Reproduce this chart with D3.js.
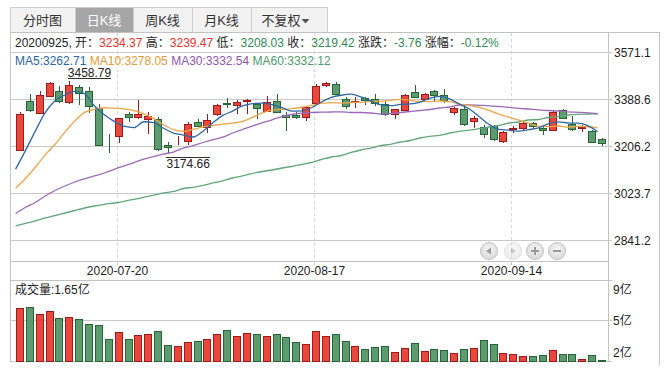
<!DOCTYPE html>
<html><head><meta charset="utf-8">
<script src="https://cdn.jsdelivr.net/npm/d3@7/dist/d3.min.js"></script>
<style>
body{margin:0;background:#fff;}
svg{display:block;font-family:"Liberation Sans",Arial,"Noto Sans CJK SC",sans-serif;}
</style>
</head><body>
<svg id="c" width="668" height="372"></svg>
<script>
const dates = ["2020-07-06","2020-07-07","2020-07-08","2020-07-09","2020-07-10","2020-07-13","2020-07-14","2020-07-15","2020-07-16","2020-07-17",
"2020-07-20","2020-07-21","2020-07-22","2020-07-23","2020-07-24","2020-07-27","2020-07-28","2020-07-29","2020-07-30","2020-07-31",
"2020-08-03","2020-08-04","2020-08-05","2020-08-06","2020-08-07","2020-08-10","2020-08-11","2020-08-12","2020-08-13","2020-08-14",
"2020-08-17","2020-08-18","2020-08-19","2020-08-20","2020-08-21","2020-08-24","2020-08-25","2020-08-26","2020-08-27","2020-08-28",
"2020-08-31","2020-09-01","2020-09-02","2020-09-03","2020-09-04","2020-09-07","2020-09-08","2020-09-09","2020-09-10","2020-09-11",
"2020-09-14","2020-09-15","2020-09-16","2020-09-17","2020-09-18","2020-09-21","2020-09-22","2020-09-23","2020-09-24","2020-09-25"];
const opens = [3190.6,3380.8,3336.6,3402.6,3419.7,3379.3,3435.2,3422.0,3354.8,3216.5,
3246.1,3330.4,3318.7,3311.0,3311.0,3212.0,3225.0,3225.6,3299.3,3281.0,
3330.4,3376.0,3365.3,3383.2,3371.5,3344.3,3380.8,3326.5,3326.0,3320.0,
3375.4,3443.0,3446.8,3389.0,3378.0,3393.6,3391.0,3371.5,3332.7,3348.2,
3415.8,3391.0,3420.8,3404.1,3340.5,3349.8,3305.5,3279.9,3285.0,3228.0,
3274.0,3278.4,3295.4,3278.4,3270.6,3348.2,3292.7,3276.0,3264.4,3234.37];
const highs = [3338.0,3408.0,3422.0,3457.0,3439.0,3458.79,3443.0,3435.0,3371.5,3253.9,
3316.0,3339.3,3384.7,3339.3,3320.0,3222.8,3246.0,3300.5,3313.3,3332.7,
3371.5,3393.6,3384.7,3391.0,3373.0,3400.2,3410.3,3339.3,3339.0,3363.0,
3449.0,3456.0,3455.8,3397.5,3397.5,3397.5,3408.0,3380.8,3352.0,3408.0,
3443.0,3414.2,3424.7,3427.4,3359.0,3365.3,3323.8,3290.0,3290.0,3264.4,
3283.8,3303.2,3300.5,3287.7,3342.0,3351.0,3322.6,3290.0,3268.3,3239.47];
const lows = [3186.0,3339.3,3330.4,3398.7,3374.2,3370.4,3365.0,3336.6,3208.0,3181.3,
3220.0,3300.5,3313.3,3255.0,3186.7,3174.66,3210.0,3210.0,3285.0,3259.0,
3323.8,3356.0,3332.7,3332.7,3311.0,3339.3,3336.6,3265.5,3313.0,3303.2,
3371.5,3435.2,3404.0,3352.0,3356.0,3367.6,3362.6,3323.8,3313.3,3342.0,
3393.6,3384.7,3378.1,3375.4,3326.5,3285.0,3277.2,3238.4,3228.0,3220.1,
3259.0,3266.7,3274.5,3248.8,3266.7,3316.0,3264.4,3261.7,3219.0,3208.03];
const closes = [3332.88,3345.34,3403.44,3450.59,3383.32,3443.29,3414.62,3361.30,3210.10,3214.13,
3314.15,3320.90,3333.16,3325.11,3196.77,3205.23,3227.96,3294.55,3286.82,3310.01,
3367.97,3371.69,3377.56,3386.46,3354.04,3379.25,3340.29,3319.27,3320.73,3360.10,
3438.80,3451.09,3408.13,3363.90,3380.68,3385.64,3373.58,3329.74,3350.11,3403.81,
3395.68,3410.61,3404.80,3384.98,3355.37,3292.59,3316.42,3254.63,3234.82,3260.35,
3278.81,3295.68,3283.92,3270.44,3338.09,3316.94,3274.30,3279.71,3223.18,3219.42];
const volumes = [6.18,6.29,5.66,5.92,5.31,5.40,5.23,4.79,4.71,3.50,
4.10,3.50,3.84,3.93,4.19,2.98,2.89,3.24,3.32,3.50,
3.93,4.28,3.76,4.02,3.93,3.76,3.93,3.67,3.24,3.06,
4.19,3.76,3.93,3.30,2.89,2.61,2.78,2.87,2.35,2.69,
3.13,2.43,2.61,2.52,2.26,2.61,2.69,3.38,3.04,2.26,
2.17,2.00,2.00,2.09,2.52,2.17,2.17,1.74,2.09,1.65];
const ma5 = [3117.38,3189.52,3265.01,3337.01,3383.11,3405.20,3419.05,3410.62,3362.53,3328.69,
3302.86,3284.12,3278.49,3301.49,3298.02,3276.23,3257.65,3249.92,3242.27,3264.91,
3297.46,3326.21,3342.81,3362.74,3371.54,3373.80,3367.52,3355.86,3342.72,3343.93,
3355.84,3378.00,3395.77,3404.40,3408.52,3397.89,3382.39,3366.71,3363.95,3368.58,
3370.58,3377.99,3393.00,3399.98,3390.29,3369.67,3350.83,3320.80,3290.77,3271.76,
3269.01,3264.86,3270.72,3277.84,3293.39,3301.01,3296.74,3295.90,3286.44,3262.71];
const ma10 = [3043.15,3080.92,3124.74,3172.74,3213.11,3261.29,3304.28,3337.82,3349.77,3355.90,
3354.03,3351.58,3344.56,3332.01,3313.35,3289.55,3270.88,3264.21,3271.88,3281.47,
3286.85,3291.93,3296.37,3302.50,3318.23,3335.63,3346.86,3349.34,3352.73,3357.74,
3364.82,3372.76,3375.82,3373.56,3376.22,3376.86,3380.19,3381.24,3384.18,3388.55,
3384.24,3380.19,3379.86,3381.96,3379.43,3370.13,3364.41,3356.90,3345.37,3331.03,
3319.34,3307.85,3295.76,3284.30,3282.58,3285.01,3280.80,3283.31,3282.14,3278.05];
const ma30 = [2945.3,2968.6,2988.0,3013.2,3034.6,3052.0,3067.6,3080.0,3090.9,3102.5,
3116.9,3130.0,3143.0,3156.8,3166.5,3176.3,3184.0,3199.5,3209.2,3220.9,
3231.8,3241.5,3257.8,3271.4,3284.9,3297.4,3309.0,3321.8,3329.6,3334.6,
3337.4,3338.5,3339.3,3340.1,3337.4,3337.4,3335.4,3331.5,3333.5,3337.4,
3341.2,3345.1,3349.0,3354.8,3358.7,3366.5,3367.2,3365.3,3363.4,3360.6,
3357.5,3353.7,3350.9,3347.8,3345.1,3343.2,3340.1,3338.1,3336.2,3332.54];
const ma60 = [2896.8,2906.5,2916.2,2927.8,2937.5,2947.2,2956.9,2966.6,2974.4,2981.0,
2986.0,2992.6,3000.4,3008.2,3016.3,3024.9,3030.7,3042.3,3047.0,3054.0,
3063.7,3072.2,3083.1,3090.9,3100.6,3108.3,3114.1,3121.9,3127.7,3135.5,
3143.3,3154.9,3164.6,3170.4,3182.1,3191.8,3199.5,3208.5,3213.9,3222.8,
3228.7,3238.4,3245.0,3248.8,3257.8,3264.4,3268.6,3274.5,3281.1,3287.7,
3296.6,3300.5,3308.2,3310.2,3317.9,3321.8,3327.7,3330.4,3331.5,3332.12];
const yTickValues = [3571.1, 3388.6, 3206.2, 3023.7, 2841.2];
const xTickLabels = ["2020-07-20", "2020-08-17", "2020-09-14"];
const volTickLabels = ["9亿", "5亿", "2亿"];
const volDomain = [1.62, 8.6];
const tabs = ["分时图", "日K线", "周K线", "月K线", "不复权"];
const maNames = ["MA5", "MA10", "MA30", "MA60"];

const svg = d3.select("#c");
const C = {
  red: "#e8473b", redS: "#9e1b1b", green: "#5c9b6e", greenS: "#276436",
  grid: "#c9c9c9", border: "#c3c3c3", text: "#222",
  ma: ["#2f68a3", "#eba64b", "#9c6ab8", "#62a77c"],
  maText: ["#2d64a0", "#e59a36", "#8f56ad", "#4f9a6c"],
  infoRed: "#e8322c", infoGreen: "#2f8a55"
};

const x = d3.scaleBand().domain(d3.range(dates.length)).range([15.07, 607.03]).padding(0);
const cx = i => x(i) + x.bandwidth() / 2;
const y = d3.scaleLinear().domain([2841.2, 3571.1]).range([240.3, 52.3]);
const yv = d3.scaleLinear().domain(volDomain).range([361.7, 281]);
const snap = v => Math.round(v) + 0.5;

// ---- tabs ----
const tabX = [10, 75, 133, 192, 251, 327];
const tg = svg.append("g");
tabs.forEach((t, i) => {
  const sel = i === 1;
  tg.append("rect").attr("x", tabX[i] + 0.5).attr("y", 7.5)
    .attr("width", tabX[i + 1] - tabX[i]).attr("height", 25)
    .attr("fill", sel ? "#a6a6a6" : "#f2f2f2").attr("stroke", "#cdcdcd");
  const tcx = i === 4 ? 281 : (tabX[i] + tabX[i + 1]) / 2;
  tg.append("text").attr("x", tcx).attr("y", 20.5).attr("text-anchor", "middle")
    .attr("dominant-baseline", "central").attr("font-size", 13)
    .attr("fill", sel ? "#fff" : "#333").text(t);
});
tg.append("path").attr("d", "M301.5,19 L309.5,19 L305.5,23.5 Z").attr("fill", "#555");

// ---- frame ----
const fr = svg.append("g").attr("stroke", C.border).attr("fill", "none").attr("shape-rendering", "crispEdges");
fr.append("line").attr("x1", 10).attr("x2", 660).attr("y1", 32.5).attr("y2", 32.5);
fr.append("line").attr("x1", 10.5).attr("x2", 10.5).attr("y1", 32).attr("y2", 362);
fr.append("line").attr("x1", 659.5).attr("x2", 659.5).attr("y1", 32).attr("y2", 365);
fr.append("line").attr("x1", 608.5).attr("x2", 608.5).attr("y1", 32).attr("y2", 362);
fr.append("line").attr("x1", 10).attr("x2", 608).attr("y1", 261.5).attr("y2", 261.5);
fr.append("line").attr("x1", 10).attr("x2", 612).attr("y1", 280.5).attr("y2", 280.5);

// ---- grid + y labels ----
const gg = svg.append("g").attr("shape-rendering", "crispEdges");
yTickValues.forEach(v => {
  const yy = snap(y(v));
  gg.append("line").attr("x1", 11).attr("x2", 612).attr("y1", yy).attr("y2", yy).attr("stroke", C.grid);
  svg.append("text").attr("x", 614).attr("y", yy).attr("dominant-baseline", "central")
    .attr("font-size", 12).attr("fill", C.text).text(v.toFixed(1));
});
xTickLabels.forEach(lbl => {
  const i = dates.indexOf(lbl);
  const xx = snap(cx(i)) - 2;
  gg.append("line").attr("x1", xx).attr("x2", xx).attr("y1", 33).attr("y2", 261)
    .attr("stroke", "#d6d6d6").attr("stroke-dasharray", "3,3");
  gg.append("line").attr("x1", xx).attr("x2", xx).attr("y1", 261).attr("y2", 265).attr("stroke", C.grid);
  svg.append("text").attr("x", xx).attr("y", 270.5).attr("text-anchor", "middle")
    .attr("dominant-baseline", "central").attr("font-size", 12).attr("fill", C.text).text(lbl);
});

// ---- volume grid ----
const vMid = (volDomain[0] + volDomain[1]) / 2;
[vMid, volDomain[0]].forEach(v => {
  const yy = snap(yv(v)) - 1;
  gg.append("line").attr("x1", 11).attr("x2", 612).attr("y1", yy).attr("y2", yy).attr("stroke", C.grid);
});
const volLblPos = [yv(volDomain[1]) + 9, yv(vMid) - 0.5, yv(volDomain[0]) - 8.5];
volTickLabels.forEach((t, k) => {
  svg.append("text").attr("x", 613).attr("y", volLblPos[k]).attr("dominant-baseline", "central")
    .attr("font-size", 12).attr("fill", C.text).text(t);
});

// ---- info line ----
const n = dates.length - 1;
const chg = closes[n] - closes[n - 1];
const pct = chg / closes[n - 1] * 100;
const colOf = v => v >= closes[n - 1] ? C.infoRed : C.infoGreen;
const info = svg.append("text").attr("x", 15).attr("y", 42.5).attr("dominant-baseline", "central")
  .attr("font-size", 12).attr("fill", C.text);
const parts = [
  [dates[n].replace(/-/g, "") + ", 开：", C.text], [opens[n].toFixed(2), colOf(opens[n])],
  [" 高：", C.text], [highs[n].toFixed(2), colOf(highs[n])],
  [" 低：", C.text], [lows[n].toFixed(2), colOf(lows[n])],
  [" 收：", C.text], [closes[n].toFixed(2), colOf(closes[n])],
  [" 涨跌：", C.text], [chg.toFixed(2), chg >= 0 ? C.infoRed : C.infoGreen],
  [" 涨幅：", C.text], [pct.toFixed(2) + "%", chg >= 0 ? C.infoRed : C.infoGreen]
];
parts.forEach(p => info.append("tspan").attr("fill", p[1]).text(p[0]));

// ---- MA legend ----
const maSeries = [ma5, ma10, ma30, ma60];
const leg = svg.append("text").attr("x", 15).attr("y", 60.5).attr("dominant-baseline", "central").attr("font-size", 12);
maNames.forEach((nm, k) => {
  leg.append("tspan").attr("fill", C.maText[k]).text((k ? " " : "") + nm + ":" + maSeries[k][n].toFixed(2));
});

// ---- candles ----
const cg = svg.append("g").attr("shape-rendering", "crispEdges");
const bw = 7;
dates.forEach((d, i) => {
  const up = closes[i] >= opens[i];
  const s = up ? C.redS : C.greenS;
  const f = up ? C.red : C.green;
  const xc = Math.round(cx(i));
  cg.append("line").attr("x1", xc + 0.5).attr("x2", xc + 0.5)
    .attr("y1", y(highs[i])).attr("y2", y(lows[i])).attr("stroke", s);
  const top = Math.round(y(Math.max(opens[i], closes[i])));
  const bot = Math.round(y(Math.min(opens[i], closes[i])));
  cg.append("rect").attr("x", xc - 3.5).attr("y", top + 0.5)
    .attr("width", bw).attr("height", Math.max(bot - top, 0))
    .attr("fill", f).attr("stroke", s);
});

// ---- MA lines ----
const lineGen = d3.line().x((d, i) => x(i) + 0.5).y(d => y(d)).curve(d3.curveMonotoneX);
maSeries.slice().reverse().forEach((s, k) => {
  const idx = 3 - k;
  svg.append("path").attr("d", lineGen(s)).attr("fill", "none")
    .attr("stroke", C.ma[idx]).attr("stroke-width", 1.3);
});

// ---- max / min annotations ----
const iMax = d3.maxIndex(highs), iMin = d3.minIndex(lows);
function annotate(i, val, above) {
  const xs = cx(i) - 1.5;
  const yb = y(val);
  const uy = above ? yb - 3.7 : yb + 3;
  const ty = above ? uy - 5 : uy + 7;
  const t = svg.append("text").attr("x", xs).attr("y", ty).attr("dominant-baseline", "central")
    .attr("font-size", 12).attr("fill", "#222").text(val.toFixed(2));
  const w = t.node().getComputedTextLength();
  svg.append("line").attr("x1", xs).attr("x2", xs + w).attr("y1", snap(uy)).attr("y2", snap(uy))
    .attr("stroke", "#333").attr("shape-rendering", "crispEdges");
}
annotate(iMax, highs[iMax], true);
annotate(iMin, lows[iMin], false);

// ---- volume ----
const vg = svg.append("g").attr("shape-rendering", "crispEdges");
const vBase = snap(yv(volDomain[0])) - 1;
volumes.forEach((v, i) => {
  const up = closes[i] >= opens[i];
  const xc = Math.round(cx(i));
  const top = snap(yv(v)) - 1;
  vg.append("rect").attr("x", xc - 3.5).attr("y", top).attr("width", bw)
    .attr("height", Math.max(vBase - top, 0))
    .attr("fill", up ? C.red : C.green).attr("stroke", up ? C.redS : C.greenS);
});
svg.append("text").attr("x", 15).attr("y", 290).attr("dominant-baseline", "central")
  .attr("font-size", 12).attr("fill", C.text).text("成交量:" + volumes[n].toFixed(2) + "亿");

// ---- nav buttons ----
const defs = svg.append("defs");
const gr = defs.append("radialGradient").attr("id", "btn").attr("cx", "50%").attr("cy", "40%").attr("r", "60%");
gr.append("stop").attr("offset", "0%").attr("stop-color", "#f7f7f7");
gr.append("stop").attr("offset", "100%").attr("stop-color", "#d9d9d9");
const btnX = [489, 513, 535, 557];
btnX.forEach((bx, k) => {
  const g = svg.append("g").attr("opacity", k === 1 ? 0.5 : 1);
  g.append("circle").attr("cx", bx).attr("cy", 251).attr("r", 8.5)
    .attr("fill", "url(#btn)").attr("stroke", "#c4c4c4");
  const ic = "#9a9a9a";
  if (k === 0) g.append("path").attr("d", `M${bx - 3},251 L${bx + 2},247.5 L${bx + 2},254.5 Z`).attr("fill", ic);
  if (k === 1) g.append("path").attr("d", `M${bx + 3},251 L${bx - 2},247.5 L${bx - 2},254.5 Z`).attr("fill", ic);
  if (k === 2) {
    g.append("line").attr("x1", bx - 4).attr("x2", bx + 4).attr("y1", 251).attr("y2", 251).attr("stroke", ic).attr("stroke-width", 2);
    g.append("line").attr("x1", bx).attr("x2", bx).attr("y1", 247).attr("y2", 255).attr("stroke", ic).attr("stroke-width", 2);
  }
  if (k === 3) g.append("line").attr("x1", bx - 4).attr("x2", bx + 4).attr("y1", 251).attr("y2", 251).attr("stroke", ic).attr("stroke-width", 2);
});
</script>
</body></html>
